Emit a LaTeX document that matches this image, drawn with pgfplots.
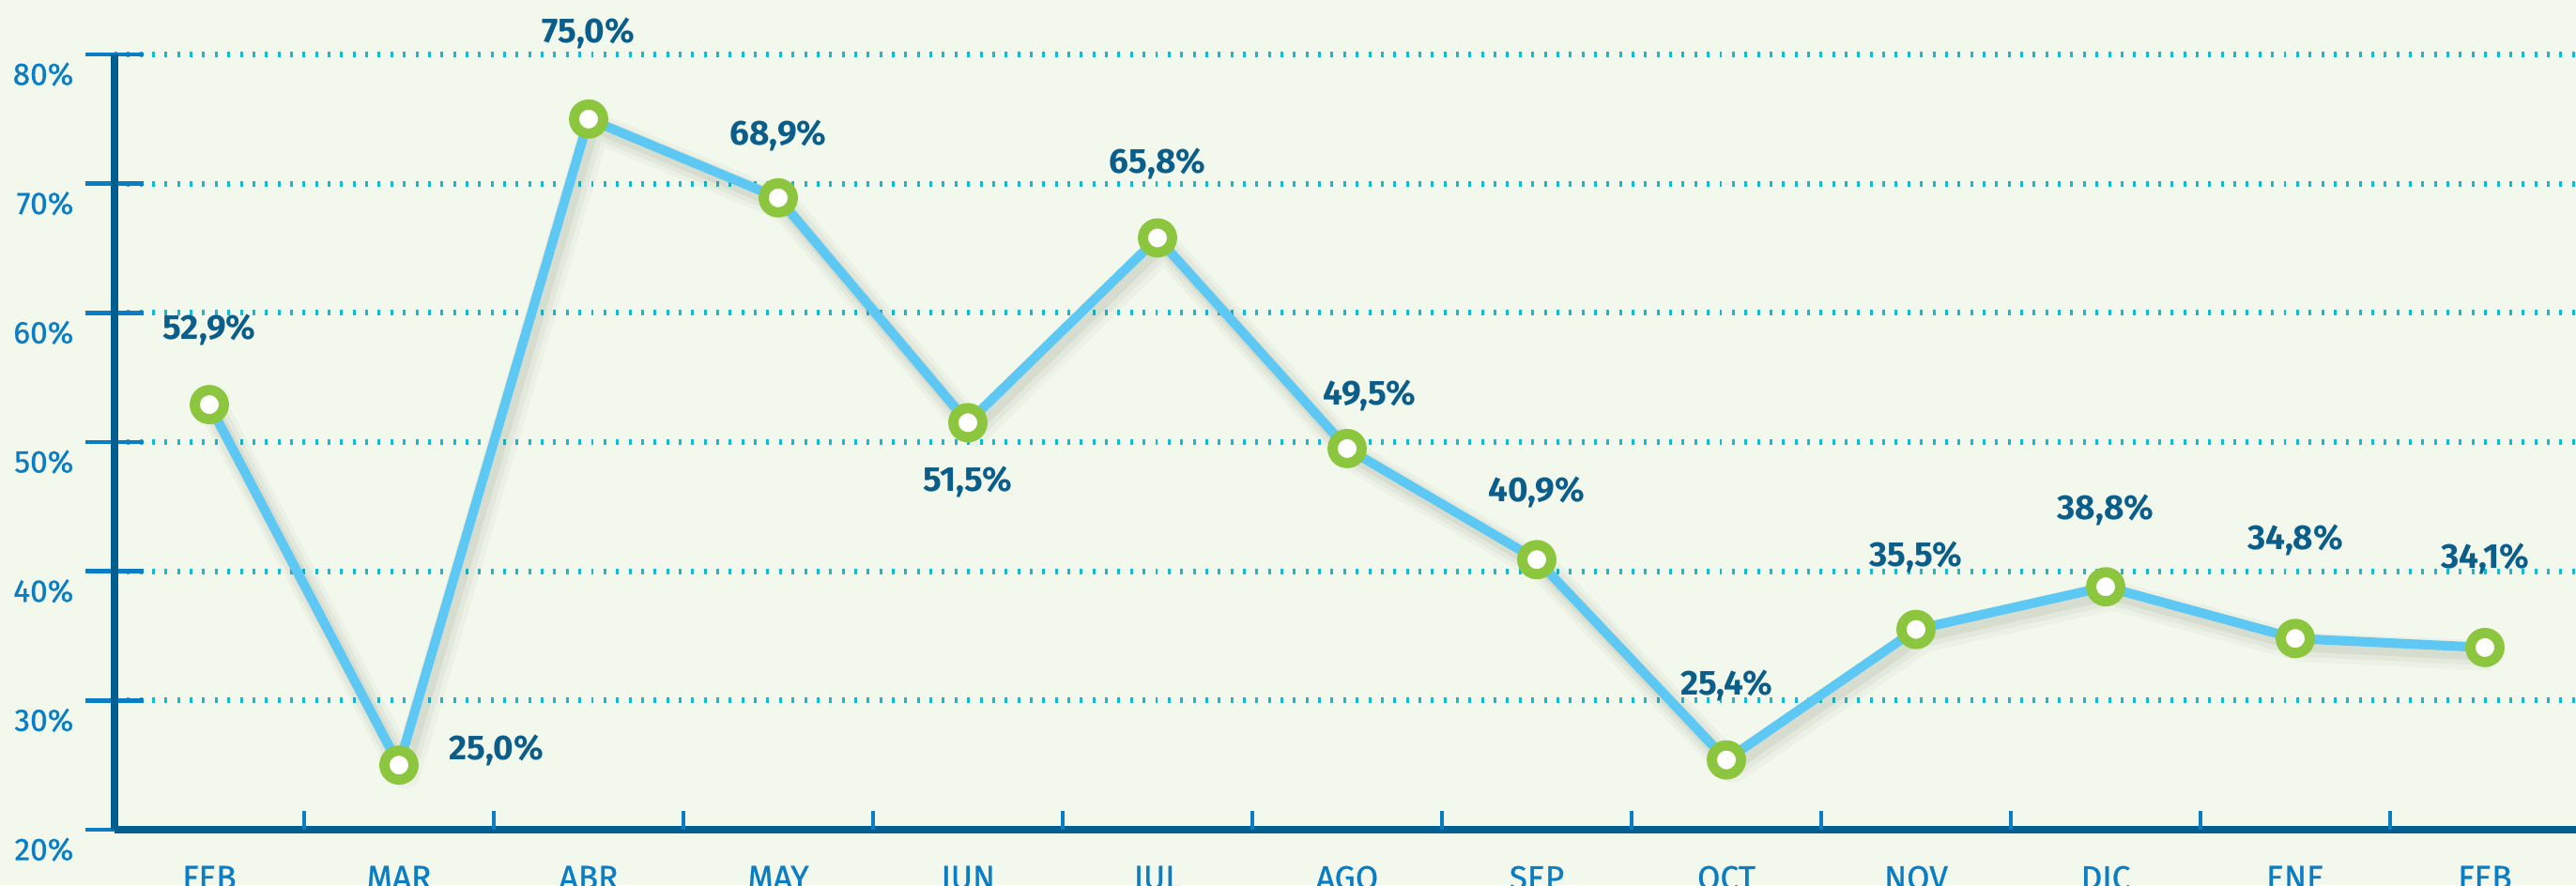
\documentclass[border=0pt]{standalone}
\usepackage{fontspec}
\setmainfont{Fira Sans}
\newfontfamily\medfont{Fira Sans}[FakeBold=0.8]
\usepackage{pgfplots}
\usepackage{pgfplotstable}
\pgfplotsset{compat=1.18}
\definecolor{bg}{HTML}{F3F8EC}
\definecolor{axisblue}{HTML}{005F8E}
\definecolor{tickblue}{HTML}{0A7DC4}
\definecolor{labelblue}{HTML}{0B5E8A}
\definecolor{gridcyan}{HTML}{17B9D2}
\definecolor{lineblue}{HTML}{5CC8F3}
\definecolor{ringgreen}{HTML}{8CC63F}
\definecolor{shadow}{HTML}{4A5A40}

\pgfplotstableread{
x y dx dy
0 52.9 0 80
1 25.0 104 16
2 75.0 0 91
3 68.9 0 66
4 51.5 0 -63
5 65.8 0 79
6 49.5 24 56
7 40.9 0 72
8 25.4 0 79
9 35.5 0 77
10 38.8 0 82
11 34.8 0 105
12 34.1 0 94
}\datatable

\begin{document}
\begin{tikzpicture}[x=1cm,y=1cm]
\fill[bg] (0,0) rectangle (27.44,9.43);
\clip (0,0) rectangle (27.44,9.43);
\begin{axis}[
  at={(1.22cm,0.59cm)}, anchor=south west,
  scale only axis, width=26.26cm, height=8.26cm,
  xmin=-0.5, xmax=12.5, ymin=20, ymax=80,
  clip=false,
  axis x line=bottom, axis y line=left,
  axis line style={-, draw=axisblue, line width=2.2pt},
  xtick={0,...,12},
  xticklabels={FEB,MAR,ABR,MAY,JUN,JUL,AGO,SEP,OCT,NOV,DIC,ENE,FEB},
  ytick={20,30,40,50,60,70,80},
  yticklabels={20\%,30\%,40\%,50\%,60\%,70\%,80\%},
  xtick style={draw=none},
  ytick style={draw=tickblue, line width=1.4pt},
  major tick length=0.62cm, tick align=center,
  ymajorgrids,
  grid style={draw=gridcyan, line width=1.7pt, dash pattern=on 0.85pt off 2.95pt},
  yticklabel style={font=\medfont\fontsize{9.5}{10}\selectfont, text=tickblue, anchor=north east, inner sep=0pt, xshift=-0.12cm, yshift=-0.08cm},
  xticklabel style={font=\medfont\fontsize{10}{11}\selectfont, text=tickblue, anchor=north, inner sep=0pt, yshift=-0.07cm},
]
\addplot[draw=shadow, opacity=0.04, line width=9pt, line join=round, xshift=0.07cm, yshift=-0.09cm, forget plot] table[x=x,y=y]{\datatable};
\addplot[draw=shadow, opacity=0.06, line width=6.5pt, line join=round, xshift=0.06cm, yshift=-0.08cm, forget plot] table[x=x,y=y]{\datatable};
\addplot[draw=shadow, opacity=0.08, line width=4pt, line join=round, xshift=0.05cm, yshift=-0.07cm, forget plot] table[x=x,y=y]{\datatable};
\addplot[draw=lineblue, line width=2.85pt, line join=round,
  mark=*, mark size=4.4pt,
  mark options={draw=ringgreen, fill=white, line width=3.1pt},
  visualization depends on={\thisrow{dx} \as \dx},
  visualization depends on={\thisrow{dy} \as \dy},
  point meta=y,
  nodes near coords={\pgfmathprintnumber[fixed,fixed zerofill,precision=1,use comma,assume math mode=true]{\pgfplotspointmeta}\%},
  every node near coord/.append style={anchor=center, xshift={\dx*0.1mm}, yshift={\dy*0.1mm}, font=\bfseries\fontsize{10.5}{12}\selectfont, text=labelblue, inner sep=0pt},
] table[x=x,y=y]{\datatable};
\pgfplotsinvokeforeach{0.5,1.5,2.5,3.5,4.5,5.5,6.5,7.5,8.5,9.5,10.5,11.5}{
  \draw[tickblue, line width=1.2pt] (axis cs:#1,20) -- (axis cs:#1,21.45);
}
\end{axis}
\end{tikzpicture}
\end{document}
